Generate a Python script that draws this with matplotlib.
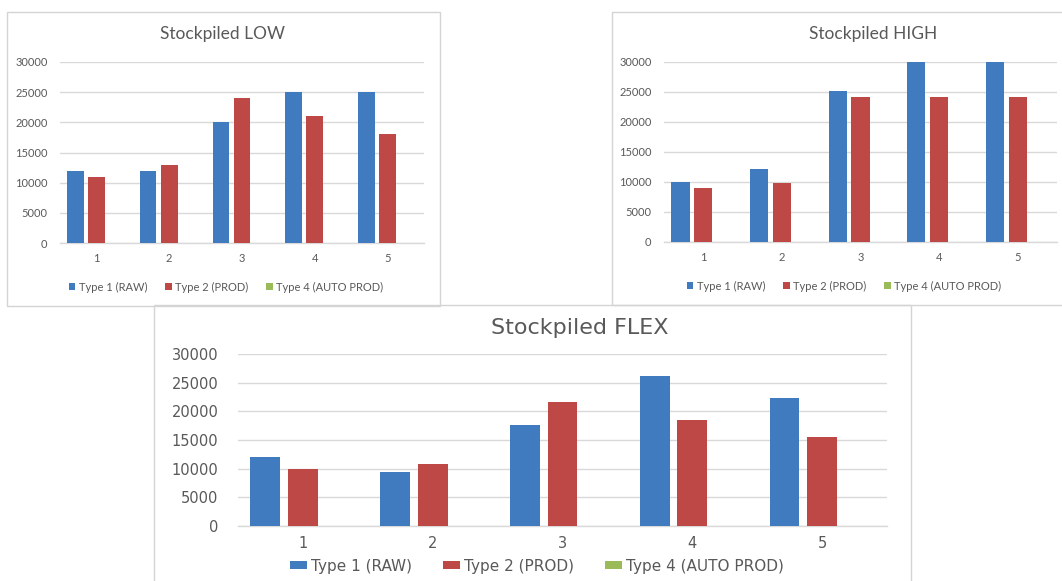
#!/usr/bin/env python3
"""Stockpiled LOW / HIGH / FLEX bar charts, three Excel-style panels on one sheet."""

import numpy as np
import matplotlib

matplotlib.use("Agg")
import matplotlib.pyplot as plt  # noqa: E402
from matplotlib.patches import Patch, Rectangle  # noqa: E402

# --- data -------------------------------------------------------------------
CATEGORIES = ["1", "2", "3", "4", "5"]
SERIES_NAMES = ["Type 1 (RAW)", "Type 2 (PROD)", "Type 4 (AUTO PROD)"]

LOW_RAW = [12000, 12000, 20000, 25000, 25000]
LOW_PROD = [11000, 13000, 24000, 21000, 18000]
LOW_AUTO = [0, 0, 0, 0, 0]

HIGH_RAW = [10000, 12100, 25200, 30000, 30000]
HIGH_PROD = [9000, 9800, 24200, 24200, 24200]
HIGH_AUTO = [0, 0, 0, 0, 0]

FLEX_RAW = [12000, 9400, 17600, 26200, 22300]
FLEX_PROD = [9900, 10900, 21700, 18500, 15500]
FLEX_AUTO = [0, 0, 0, 0, 0]

Y_TICKS = [0, 5000, 10000, 15000, 20000, 25000, 30000]

# --- style ------------------------------------------------------------------
COLORS = ["#3F7BBE", "#BE4845", "#9BBB59"]
TEXT = "#595959"
GRID = "#D9D9D9"
FRAME = "#D4D4D4"
W_PX, H_PX = 1062, 581
BAR_W = 0.23
STEP = 0.29


def px_box(x0, y0, x1, y1):
    """Pixel box (top-left origin) -> figure fraction [left, bottom, w, h]."""
    return [x0 / W_PX, 1 - y1 / H_PX, (x1 - x0) / W_PX, (y1 - y0) / H_PX]


def panel(fig, box, title, title_xy, series, legend_xy, font, sizes, handle, ypad):
    tick_fs, title_fs, leg_fs = sizes
    ax = fig.add_axes(px_box(*box))
    x = np.arange(len(CATEGORIES))
    for i, (vals, color) in enumerate(zip(series, COLORS)):
        ax.bar(x + (i - 1) * STEP, vals, width=BAR_W, color=color, lw=0, zorder=3)

    ax.set_xlim(-0.5, len(CATEGORIES) - 0.5)
    ax.set_ylim(0, 30000)
    ax.set_yticks(Y_TICKS)
    ax.set_yticklabels([str(v) for v in Y_TICKS], family=font, fontsize=tick_fs, color=TEXT)
    ax.set_xticks(x)
    ax.set_xticklabels(CATEGORIES, family=font, fontsize=tick_fs, color=TEXT)
    ax.tick_params(length=0)
    ax.tick_params(axis="y", pad=ypad)
    ax.tick_params(axis="x", pad=7)
    ax.grid(axis="y", color=GRID, lw=1.0, zorder=0)
    for side in ("top", "right", "left"):
        ax.spines[side].set_visible(False)
    ax.spines["bottom"].set_color(GRID)
    ax.spines["bottom"].set_linewidth(1.0)
    ax.patch.set_alpha(0)

    fig.text(title_xy[0] / W_PX, 1 - title_xy[1] / H_PX, title, ha="center",
             va="center", family=font, fontsize=title_fs, color=TEXT)

    handles = [Patch(facecolor=c, edgecolor="none") for c in COLORS]
    fig.legend(handles, SERIES_NAMES, loc="center", ncol=3, frameon=False,
               bbox_to_anchor=(legend_xy[0] / W_PX, 1 - legend_xy[1] / H_PX),
               prop={"family": font, "size": leg_fs}, labelcolor=TEXT,
               handlelength=handle[0], handleheight=handle[1],
               handletextpad=0.3, columnspacing=handle[2])
    return ax


def main():
    fig = plt.figure(figsize=(W_PX / 100, H_PX / 100), dpi=100)
    fig.patch.set_facecolor("white")

    # chart frames
    for x0, y0, x1, y1 in [(7, 12, 440, 306), (612, 12, 1075, 305), (154, 305, 911, 595)]:
        fig.add_artist(Rectangle((x0 / W_PX, 1 - y1 / H_PX), (x1 - x0) / W_PX,
                                 (y1 - y0) / H_PX, transform=fig.transFigure,
                                 facecolor="none", edgecolor=FRAME, lw=1.0))

    panel(fig, (60, 62, 424, 243), "Stockpiled LOW", (223, 34),
          [LOW_RAW, LOW_PROD, LOW_AUTO], (226, 287), "Lato", (8, 12.5, 8),
          (0.6, 0.6, 1.6), 9)
    panel(fig, (664, 62, 1057, 242), "Stockpiled HIGH", (873, 34),
          [HIGH_RAW, HIGH_PROD, HIGH_AUTO], (844, 286), "Lato", (8, 12.5, 8),
          (0.6, 0.6, 1.6), 9)
    panel(fig, (238, 354, 887, 526), "Stockpiled FLEX", (580, 328),
          [FLEX_RAW, FLEX_PROD, FLEX_AUTO], (537, 566), "DejaVu Sans", (10.5, 16, 11),
          (1.1, 0.5, 2.0), 14)

    fig.savefig("out.png", dpi=100, facecolor="white")


if __name__ == "__main__":
    main()
